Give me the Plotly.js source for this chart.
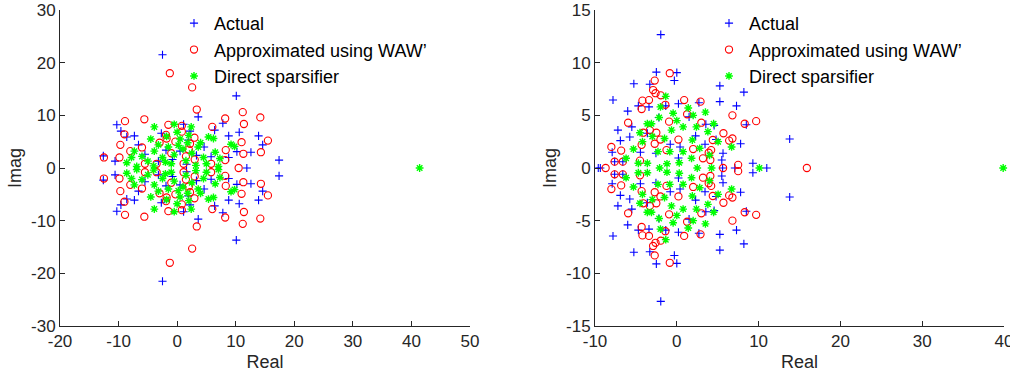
<!DOCTYPE html>
<html><head><meta charset="utf-8">
<script src="https://cdn.plot.ly/plotly-3.0.1.min.js"></script>
<style>html,body{margin:0;padding:0;background:#fff}#chart{width:1010px;height:377px}</style>
</head><body><div id="chart"></div>
<script>
// ---------- Left panel data ----------
var leftActualX = [-2.5,10.1,3.6,-10.3,1.1,7.8,-9.6,-8.6,-7.3,-2.7,2.2,6.4,8.8,10.6,13.9,14.6,-6.6,1.9,-1.9,-12.6,-10.6,-3.2,5.8,8.8,10.2,12.6,17.4,0.5,3.3,-0.8,1.6,-5.5,4.6,
  -2.5,10.1,3.6,-10.3,1.1,7.8,-9.6,-8.6,-7.3,-2.7,2.2,6.4,8.8,10.6,13.9,14.6,-6.6,1.9,-1.9,-12.6,-10.6,-3.2,5.8,8.8,10.2,12.6,17.4,0.5,3.3,-0.8,1.6,-5.5,4.6,
  11.9];
var leftActualY = [21.5,13.7,9.7,8.2,8.3,8.5,7.0,5.9,6.1,6.6,7.0,7.2,6.1,6.8,6.1,4.4,4.4,5.3,3.4,2.3,1.3,1.3,2.15,2.0,3.1,3.0,1.5,3.2,2.4,1.6,0.7,2.6,4.0,
  -21.5,-13.7,-9.7,-8.2,-8.3,-8.5,-7.0,-5.9,-6.1,-6.6,-7.0,-7.2,-6.1,-6.8,-6.1,-4.4,-4.4,-5.3,-3.4,-2.3,-1.3,-1.3,-2.15,-2.0,-3.1,-3.0,-1.5,-3.2,-2.4,-1.6,-0.7,-2.6,-4.0,
  0];

var leftApproxX = [-1.25,2.56,3.35,11.2,14.2,8.2,-8.9,-5.6,-1.5,11.4,6.0,0.8,0.8,-9.0,-1.9,-1.8,2.95,-0.3,-9.7,11.0,15.5,-6.0,-8.0,8.3,11.3,14.3,-12.5,-9.85,8.2,-5.5,-3.5,1.1,5.8,2.0,1.5,-1.0,3.0,2.2,-3.0,
  -1.25,2.56,3.35,11.2,14.2,8.2,-8.9,-5.6,-1.5,11.4,6.0,0.8,0.8,-9.0,-1.9,-1.8,2.95,-0.3,-9.7,11.0,15.5,-6.0,-8.0,8.3,11.3,14.3,-12.5,-9.85,8.2,-5.5,-3.5,1.1,5.8,2.0,1.5,-1.0,3.0,2.2,-3.0,
  10.5];
var leftApproxY = [18.0,15.3,11.1,10.6,9.6,9.4,8.9,9.25,8.2,8.35,7.8,8.0,6.9,6.4,6.3,5.6,5.75,5.0,4.4,4.9,5.2,3.9,3.2,3.4,2.7,3.0,2.0,2.0,1.5,0.8,0.8,0.8,0.8,3.5,2.2,2.8,1.6,4.6,4.8,
  -18.0,-15.3,-11.1,-10.6,-9.6,-9.4,-8.9,-9.25,-8.2,-8.35,-7.8,-8.0,-6.9,-6.4,-6.3,-5.6,-5.75,-5.0,-4.4,-4.9,-5.2,-3.9,-3.2,-3.4,-2.7,-3.0,-2.0,-2.0,-1.5,-0.8,-0.8,-0.8,-0.8,-3.5,-2.2,-2.8,-1.6,-4.6,-4.8,
  0];

var leftDirectX = [-3.9,-0.5,2.4,5.35,6.2,9.2,-3.2,-3.9,-7.3,-8.6,-6.9,-5.0,7.3,7.05,-1.5,0.5,-2.5,-0.5,1.0,2.5,3.6,4.5,-1.0,1.5,3.2,5.0,-4.0,-1.8,0.0,2.0,4.0,-6.0,-2.0,0.2,1.8,6.5,-4.5,-7.8,9.8,
  -3.9,-0.5,2.4,5.35,6.2,9.2,-3.2,-3.9,-7.3,-8.6,-6.9,-5.0,7.3,7.05,-1.5,0.5,-2.5,-0.5,1.0,2.5,3.6,4.5,-1.0,1.5,3.2,5.0,-4.0,-1.8,0.0,2.0,4.0,-6.0,-2.0,0.2,1.8,6.5,-4.5,-7.8,9.8,
  41.4];
var leftDirectY = [7.8,8.3,7.8,5.9,5.6,4.5,4.4,3.2,3.2,1.0,0.3,1.3,1.8,0.3,4.0,5.5,2.0,2.5,3.6,2.8,4.0,2.0,0.8,1.4,0.5,0.8,0.4,6.0,6.8,6.2,4.8,2.2,1.1,4.3,4.8,3.0,5.5,2.0,4.1,
  -7.8,-8.3,-7.8,-5.9,-5.6,-4.5,-4.4,-3.2,-3.2,-1.0,-0.3,-1.3,-1.8,-0.3,-4.0,-5.5,-2.0,-2.5,-3.6,-2.8,-4.0,-2.0,-0.8,-1.4,-0.5,-0.8,-0.4,-6.0,-6.8,-6.2,-4.8,-2.2,-1.1,-4.3,-4.8,-3.0,-5.5,-2.0,-4.1,
  0];

// ---------- Right panel data ----------
var rightActualX = [-1.96,-2.5,0.0,-0.3,-5.25,-3.3,-7.8,-4.7,-3.4,-1.35,0.2,2.7,5.26,8.2,5.26,7.3,-6.0,-2.2,1.5,-7.2,-5.5,3.55,4.56,8.5,13.8,-6.9,-5.75,-3.6,2.3,3.45,7.8,-7.9,-4.45,-2.55,0.2,-0.8,5.65,-7.6,-6.6,9.3,5.5,4.8,0.4,
  -1.96,-2.5,0.0,-0.3,-5.25,-3.3,-7.8,-4.7,-3.4,-1.35,0.2,2.7,5.26,8.2,5.26,7.3,-6.0,-2.2,1.5,-7.2,-5.5,3.55,4.56,8.5,13.8,-6.9,-5.75,-3.6,2.3,3.45,7.8,-7.9,-4.45,-2.55,0.2,-0.8,5.65,-7.6,-6.6,9.3,5.5,4.8,0.4,
  -9.6,-9.35,11.0,5.6,7.1];
var rightActualY = [12.66,9.1,9.05,8.3,8.0,7.95,6.45,5.9,5.8,5.9,6.1,6.2,7.8,7.2,6.3,5.9,5.4,4.8,4.85,3.6,3.9,4.15,4.05,4.1,2.75,2.6,2.95,3.3,3.05,2.25,2.3,1.5,1.5,1.4,0.95,2.25,1.4,0.6,0.6,0.45,0.76,2.7,2.0,
  -12.66,-9.1,-9.05,-8.3,-8.0,-7.95,-6.45,-5.9,-5.8,-5.9,-6.1,-6.2,-7.8,-7.2,-6.3,-5.9,-5.4,-4.8,-4.85,-3.6,-3.9,-4.15,-4.05,-4.1,-2.75,-2.6,-2.95,-3.3,-3.05,-2.25,-2.3,-1.5,-1.5,-1.4,-0.95,-2.25,-1.4,-0.6,-0.6,-0.45,-0.76,-2.7,-2.0,
  0,0,0,0,0];

var rightApproxX = [-0.86,-2.7,-2.9,-2.6,-1.96,-4.2,-3.4,-4.3,-1.4,-5.95,-0.94,-3.3,-2.5,-4.1,0.2,-2.0,-8.0,-6.8,-6.6,-7.6,-4.5,-1.26,0.9,2.9,6.8,8.3,9.7,1.26,3.0,5.7,4.4,6.4,6.8,3.2,3.9,4.2,4.1,7.5,2.0,-4.3,-2.7,
  -0.86,-2.7,-2.9,-2.6,-1.96,-4.2,-3.4,-4.3,-1.4,-5.95,-0.94,-3.3,-2.5,-4.1,0.2,-2.0,-8.0,-6.8,-6.6,-7.6,-4.5,-1.26,0.9,2.9,6.8,8.3,9.7,1.26,3.0,5.7,4.4,6.4,6.8,3.2,3.9,4.2,4.1,7.5,2.0,-4.3,-2.7,
  -8.7,5.66,15.9];
var rightApproxY = [9.0,8.3,7.4,7.1,6.9,6.4,6.45,5.6,6.0,4.3,4.4,3.6,3.35,3.35,2.7,2.7,2.0,1.65,0.6,0.6,0.7,1.7,6.45,6.3,5.0,4.2,4.45,5.1,4.3,3.3,2.66,2.6,2.8,0.92,1.45,1.7,0.76,0.3,1.8,2.2,2.3,
  -9.0,-8.3,-7.4,-7.1,-6.9,-6.4,-6.45,-5.6,-6.0,-4.3,-4.4,-3.6,-3.35,-3.35,-2.7,-2.7,-2.0,-1.65,-0.6,-0.6,-0.7,-1.7,-6.45,-6.3,-5.0,-4.2,-4.45,-5.1,-4.3,-3.3,-2.66,-2.6,-2.8,-0.92,-1.45,-1.7,-0.76,-0.3,-1.8,-2.2,-2.3,
  0,0,0];

var rightDirectX = [-1.35,-2.16,-0.45,-3.6,-3.1,-4.5,-4.2,-0.65,-2.3,-0.86,-6.2,-4.7,-3.6,1.4,2.0,0.77,2.4,3.8,1.9,5.05,6.7,2.8,0.77,1.8,-3.0,-1.5,0.0,3.5,4.5,-2.0,-5.3,4.0,-1.2,0.3,
  -1.35,-2.16,-0.45,-3.6,-3.1,-4.5,-4.2,-0.65,-2.3,-0.86,-6.2,-4.7,-3.6,1.4,2.0,0.77,2.4,3.8,1.9,5.05,6.7,2.8,0.77,1.8,-3.0,-1.5,0.0,3.5,4.5,-2.0,-5.3,4.0,-1.2,0.3,
  -2.1,2.5,4.25,10.1,39.9];
var rightDirectY = [6.8,4.8,5.2,4.2,4.2,3.35,2.5,3.6,1.55,1.55,0.92,0.45,0.45,5.7,5.0,3.9,3.9,3.45,2.66,2.5,2.0,1.87,1.55,0.92,3.0,2.8,4.5,5.3,4.2,5.8,1.8,1.2,0.4,0.5,
  -6.8,-4.8,-5.2,-4.2,-4.2,-3.35,-2.5,-3.6,-1.55,-1.55,-0.92,-0.45,-0.45,-5.7,-5.0,-3.9,-3.9,-3.45,-2.66,-2.5,-2.0,-1.87,-1.55,-0.92,-3.0,-2.8,-4.5,-5.3,-4.2,-5.8,-1.8,-1.2,-0.4,-0.5,
  0,0,0,0,0];

// ---------- Tick labels ----------
var leftXTicks = [-20,-10,0,10,20,30,40,50];
var leftXText = ['-20','-10','0','10','20','30','40','50'];
var leftYTicks = [-30,-20,-10,0,10,20,30];
var leftYText = ['-30','-20','-10','0','10','20','30'];
var rightXTicks = [-10,0,10,20,30,40];
var rightXText = ['-10','0','10','20','30','40'];
var rightYTicks = [-15,-10,-5,0,5,10,15];
var rightYText = ['-15','-10','-5','0','5','10','15'];

var seriesNames = ['Actual', 'Approximated using WAW\u2019', 'Direct sparsifier'];

var FONT = 'Liberation Sans, Arial, Helvetica, sans-serif';
var INK = '#262626';

function mk(x, y, name, sym, color, size, lw, xa, ya, leg) {
  return {
    type: 'scatter', mode: 'markers', x: x, y: y, name: name,
    xaxis: xa, yaxis: ya, legend: leg, cliponaxis: false,
    marker: { symbol: sym, size: size, color: color, line: { color: color, width: lw } }
  };
}

var data = [
  mk(leftActualX, leftActualY, seriesNames[0], 'cross-thin-open', '#0000ff', 5.8, 1.1, 'x', 'y', 'legend'),
  mk(leftApproxX, leftApproxY, seriesNames[1], 'circle-open', '#ff0000', 7.2, 1.1, 'x', 'y', 'legend'),
  mk(leftDirectX, leftDirectY, seriesNames[2], 'asterisk-open', '#00ff00', 6.5, 1.4, 'x', 'y', 'legend'),
  mk(rightActualX, rightActualY, seriesNames[0], 'cross-thin-open', '#0000ff', 5.8, 1.1, 'x2', 'y2', 'legend2'),
  mk(rightApproxX, rightApproxY, seriesNames[1], 'circle-open', '#ff0000', 7.2, 1.1, 'x2', 'y2', 'legend2'),
  mk(rightDirectX, rightDirectY, seriesNames[2], 'asterisk-open', '#00ff00', 6.5, 1.4, 'x2', 'y2', 'legend2')
];

function xax(range, tv, tt, dom, anchor) {
  return {
    range: range, domain: dom, anchor: anchor, tickmode: 'array', tickvals: tv, ticktext: tt,
    showline: true, linecolor: INK, linewidth: 1, ticks: 'inside', ticklen: 5, tickcolor: INK, tickwidth: 1,
    showgrid: false, zeroline: false, mirror: false, ticklabeloverflow: 'allow',
    tickfont: { family: FONT, size: 17, color: INK },
    title: { text: 'Real', font: { family: FONT, size: 18, color: INK }, standoff: 4 }
  };
}
function yax(range, tv, tt, anchor) {
  return {
    range: range, domain: [0, 1], anchor: anchor, tickmode: 'array', tickvals: tv, ticktext: tt,
    showline: true, linecolor: INK, linewidth: 1, ticks: 'inside', ticklen: 5, tickcolor: INK, tickwidth: 1,
    showgrid: false, zeroline: false, mirror: false, ticklabeloverflow: 'allow',
    tickfont: { family: FONT, size: 17, color: INK },
    title: { text: 'Imag', font: { family: FONT, size: 18, color: INK }, standoff: 4 }
  };
}

var legendBase = {
  xanchor: 'left', yanchor: 'top', y: 1.016, bgcolor: 'rgba(0,0,0,0)', borderwidth: 0,
  font: { family: FONT, size: 18, color: '#000' }, tracegroupgap: 0, itemwidth: 30
};

var layout = {
  width: 1010, height: 377,
  margin: { l: 0, r: 0, t: 10, b: 51, pad: 0 },
  paper_bgcolor: '#fff', plot_bgcolor: 'rgba(0,0,0,0)',
  showlegend: true,
  xaxis: xax([-20, 50], leftXTicks, leftXText, [60/1010, 470/1010], 'y'),
  yaxis: yax([-30, 30], leftYTicks, leftYText, 'x'),
  xaxis2: xax([-10, 40], rightXTicks, rightXText, [595/1010, 1004/1010], 'y2'),
  yaxis2: yax([-15, 15], rightYTicks, rightYText, 'x2'),
  legend: Object.assign({}, legendBase, { x: 174/1010 }),
  legend2: Object.assign({}, legendBase, { x: 709/1010 })
};

Plotly.newPlot('chart', data, layout, { staticPlot: true, displayModeBar: false });
</script></body></html>
